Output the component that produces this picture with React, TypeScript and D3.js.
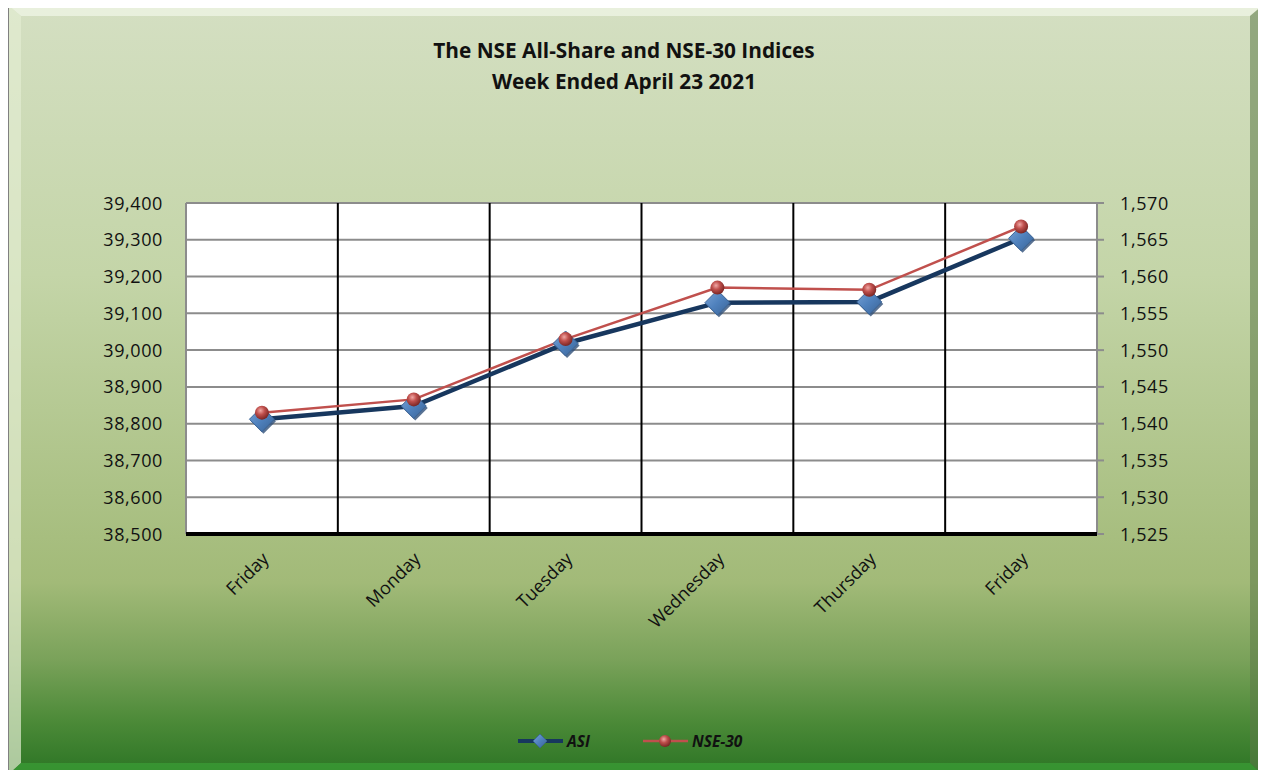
import React from "react";
import * as d3 from "d3";

const categories = ["Friday", "Monday", "Tuesday", "Wednesday", "Thursday", "Friday"];
const asiValues = [38812, 38848, 39018, 39129, 39131, 39304];
const nse30Values = [1541.5, 1543.3, 1551.5, 1558.5, 1558.2, 1566.8];
const leftTicks = [38500, 38600, 38700, 38800, 38900, 39000, 39100, 39200, 39300, 39400];
const rightTicks = [1525, 1530, 1535, 1540, 1545, 1550, 1555, 1560, 1565, 1570];
const titleLines = ["The NSE All-Share and NSE-30 Indices", "Week Ended April 23 2021"];

const W = 1266, H = 778;
const plot = { l: 186, r: 1097, t: 203, b: 534 };
const font = "'Open Sans', 'Liberation Sans', sans-serif";

export default function App() {
  const x = d3.scaleBand<number>().domain(d3.range(categories.length)).range([plot.l, plot.r]).padding(0);
  const yL = d3.scaleLinear().domain([38500, 39400]).range([plot.b, plot.t]);
  const yR = d3.scaleLinear().domain([1525, 1570]).range([plot.b, plot.t]);
  const cx = (i: number) => (x(i) as number) + x.bandwidth() / 2;
  const fmt = d3.format(",");
  const asiLine = d3.line<number>().x((_, i) => cx(i)).y((d) => yL(d))(asiValues) as string;
  const nseLine = d3.line<number>().x((_, i) => cx(i)).y((d) => yR(d))(nse30Values) as string;

  const diamond = (px: number, py: number, s: number) =>
    `M${px},${py - s}L${px + s},${py}L${px},${py + s}L${px - s},${py}Z`;

  return (
    <div style={{ margin: -8, width: W, height: H, overflow: "hidden" }}>
      <svg width={W} height={H} style={{ display: "block" }}>
        <defs>
          <linearGradient id="bg" x1="0" y1="0" x2="0" y2="1">
            <stop offset="0" stopColor="#d4dfc2" />
            <stop offset="0.35" stopColor="#c4d5a8" />
            <stop offset="0.75" stopColor="#a2ba78" />
            <stop offset="0.85" stopColor="#7aa25a" />
            <stop offset="0.93" stopColor="#4c8a38" />
            <stop offset="1" stopColor="#2b7424" />
          </linearGradient>
          <radialGradient id="ball" cx="0.4" cy="0.35" r="0.65">
            <stop offset="0" stopColor="#f0a8a5" />
            <stop offset="0.45" stopColor="#c0504d" />
            <stop offset="1" stopColor="#7a2624" />
          </radialGradient>
          <linearGradient id="dia" x1="0" y1="0" x2="1" y2="1">
            <stop offset="0" stopColor="#7aa3d6" />
            <stop offset="0.5" stopColor="#4f81bd" />
            <stop offset="1" stopColor="#3a6395" />
          </linearGradient>
        </defs>
        <rect x={8} y={5} width={1255} height={770} fill="url(#bg)" stroke="#808080" strokeWidth={2} />
        {/* bevel */}
        <path d="M9,6L1262,6L1250,16L21,16Z" fill="#eef4e4" opacity={0.8} />
        <path d="M9,6L21,16L21,763L9,774Z" fill="#e2ecd2" opacity={0.7} />
        <path d="M1262,6L1250,16L1250,763L1262,774Z" fill="#5c7a48" opacity={0.55} />
        <path d="M9,774L21,763L1250,763L1262,774Z" fill="#3a9a35" opacity={0.8} />

        {titleLines.map((t, i) => (
          <text key={i} x={624} y={58 + i * 31} textAnchor="middle" fontFamily={font} fontWeight="bold" fontSize={20.8} fill="#111">
            {t}
          </text>
        ))}

        <rect x={plot.l} y={plot.t} width={plot.r - plot.l} height={plot.b - plot.t} fill="#fff" />
        {leftTicks.map((v) => (
          <line key={v} x1={plot.l} x2={plot.r} y1={yL(v)} y2={yL(v)} stroke="#8c8c8c" strokeWidth={2} />
        ))}
        {rightTicks.map((v) => (
          <line key={"r" + v} x1={plot.r} x2={plot.r + 7} y1={yR(v)} y2={yR(v)} stroke="#8c8c8c" strokeWidth={2} />
        ))}
        <line x1={plot.l} x2={plot.l} y1={plot.t} y2={plot.b} stroke="#8c8c8c" strokeWidth={2} />
        <line x1={plot.r} x2={plot.r} y1={plot.t} y2={plot.b} stroke="#8c8c8c" strokeWidth={2} />
        {d3.range(1, categories.length).map((i) => (
          <line key={"v" + i} x1={x(i) as number} x2={x(i) as number} y1={plot.t} y2={plot.b} stroke="#000" strokeWidth={2} />
        ))}
        <line x1={plot.l} x2={plot.r} y1={plot.b} y2={plot.b} stroke="#000" strokeWidth={4} />

        {leftTicks.map((v) => (
          <text key={"lt" + v} x={163} y={yL(v) + 6.5} textAnchor="end" fontFamily={font} fontSize={18} letterSpacing={0.6} fill="#111">
            {fmt(v)}
          </text>
        ))}
        {rightTicks.map((v) => (
          <text key={"rt" + v} x={1120} y={yR(v) + 6.5} textAnchor="start" fontFamily={font} fontSize={18} letterSpacing={0.6} fill="#111">
            {fmt(v)}
          </text>
        ))}
        {categories.map((c, i) => (
          <text key={"c" + i} transform={`translate(${cx(i) + 8},${plot.b + 26}) rotate(-45)`} textAnchor="end"
            fontFamily={font} fontSize={18} fill="#111">
            {c}
          </text>
        ))}

        <path d={asiLine} fill="none" stroke="#17375e" strokeWidth={4.5} />
        <path d={nseLine} fill="none" stroke="#c0504d" strokeWidth={2.5} />
        {asiValues.map((v, i) => (
          <g key={"a" + i}>
            <path d={diamond(cx(i) + 1.5, yL(v) + 2, 12.5)} fill="#2f4f78" opacity={0.8} />
            <path d={diamond(cx(i), yL(v), 12.5)} fill="url(#dia)" stroke="#3a6395" strokeWidth={1} />
          </g>
        ))}
        {nse30Values.map((v, i) => (
          <circle key={"n" + i} cx={cx(i)} cy={yR(v)} r={7} fill="url(#ball)" />
        ))}

        {/* legend */}
        <line x1={518} x2={563} y1={741} y2={741} stroke="#17375e" strokeWidth={4} />
        <path d={diamond(540, 741, 7)} fill="url(#dia)" stroke="#3a6395" strokeWidth={0.8} />
        <text x={567} y={747} fontFamily={font} fontWeight="bold" fontStyle="italic" fontSize={15.5} fill="#111">ASI</text>
        <line x1={643} x2={688} y1={741} y2={741} stroke="#c0504d" strokeWidth={2.5} />
        <circle cx={665} cy={741} r={6} fill="url(#ball)" />
        <text x={692} y={747} fontFamily={font} fontWeight="bold" fontStyle="italic" fontSize={15.5} fill="#111">NSE-30</text>
      </svg>
    </div>
  );
}
